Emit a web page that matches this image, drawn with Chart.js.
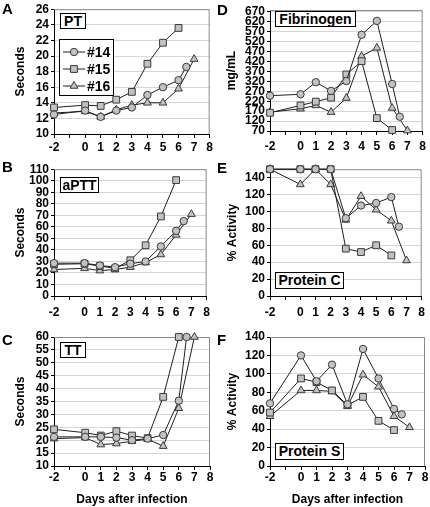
<!DOCTYPE html>
<html>
<head>
<meta charset="utf-8">
<script src="https://cdn.jsdelivr.net/npm/chart.js@4.4.1/dist/chart.umd.min.js"></script>
<style>
  body { margin: 0; background: #fff; width: 430px; height: 507px; position: relative; overflow: hidden;
         font-family: "Liberation Sans", Arial, sans-serif; }
  canvas { position: absolute; }
  .letter { position: absolute; font-weight: bold; font-size: 15px; line-height: 15px; }
  .tag { position: absolute; box-sizing: border-box; border: 1px solid #000; background: #fff;
         font-weight: bold; font-size: 14px; text-align: center; }
</style>
</head>
<body>
<canvas id="chartA" width="215" height="160" style="left:0;top:0"></canvas>
<canvas id="chartB" width="215" height="165" style="left:0;top:160px"></canvas>
<canvas id="chartC" width="215" height="182" style="left:0;top:325px"></canvas>
<canvas id="chartD" width="215" height="160" style="left:215px;top:0"></canvas>
<canvas id="chartE" width="215" height="165" style="left:215px;top:160px"></canvas>
<canvas id="chartF" width="215" height="182" style="left:215px;top:325px"></canvas>

<div class="letter" style="left:2px;top:1px">A</div>
<div class="letter" style="left:2px;top:159px">B</div>
<div class="letter" style="left:2px;top:332px">C</div>
<div class="letter" style="left:217px;top:2px">D</div>
<div class="letter" style="left:217px;top:160px">E</div>
<div class="letter" style="left:217px;top:332px">F</div>

<div class="tag" style="left:60px;top:13px;width:26px;height:16px;line-height:14px">PT</div>
<div class="tag" style="left:60px;top:177px;width:39px;height:16px;line-height:14px">aPTT</div>
<div class="tag" style="left:60px;top:342px;width:26px;height:16px;line-height:14px">TT</div>
<div class="tag" style="left:275px;top:11px;width:81px;height:16px;line-height:14px">Fibrinogen</div>
<div class="tag" style="left:275px;top:272px;width:69px;height:17px;line-height:15px">Protein C</div>
<div class="tag" style="left:275px;top:443px;width:69px;height:17px;line-height:15px">Protein S</div>

<script>
// days after infection for each animal
const days14 = [-2, 0, 1, 2, 3, 4, 5, 6, 6.5];
const days15 = [-2, 0, 1, 2, 3, 4, 5, 6];
const days16 = [-2, 0, 1, 2, 3, 4, 5, 6, 7];
const xTicks = [-2, -1, 0, 1, 2, 3, 4, 5, 6, 7, 8];

// A: PT (seconds)
const pt14 = [12.5, 13.0, 12.2, 13.0, 13.4, 15.0, 16.0, 16.9, 18.6];
const pt15 = [13.4, 13.7, 13.6, 14.4, 15.4, 19.0, 21.7, 23.6];
const pt16 = [12.7, 12.9, 12.2, 13.1, 13.7, 14.0, 14.0, 15.8, 19.6];
const ptTicks = [10, 12, 14, 16, 18, 20, 22, 24, 26];

// B: aPTT (seconds)
const aptt14 = [28.5, 28.5, 26.5, 25, 28, 30, 43, 56.5, 65];
const aptt15 = [27.5, 28, 26, 24, 31, 44, 69, 100.5];
const aptt16 = [23, 24, 22, 23, 25, 29, 36, 53, 71];
const apttTicks = [0, 10, 20, 30, 40, 50, 60, 70, 80, 90, 100, 110];

// C: TT (seconds)
const tt14 = [21.3, 21.3, 21.3, 21.0, 20.0, 20.6, 22.0, 35.3, 60];
const tt15 = [24.2, 22.9, 21.8, 23.5, 21.8, 20.8, 36.8, 60];
const tt16 = [20.6, 21.0, 18.3, 18.7, 19.6, 20.4, 17.7, 32.4, 60];
const ttTicks = [10, 15, 20, 25, 30, 35, 40, 45, 50, 55, 60];

// D: Fibrinogen (mg/mL)
const fib14 = [248, 255, 316, 272, 322, 555, 625, 307, 142];
const fib15 = [162, 199, 218, 238, 355, 422, 135, 75];
const fib16 = [165, 182, 199, 165, 236, 447, 489, 186, 72];
const fibTicks = [70, 120, 170, 220, 270, 320, 370, 420, 470, 520, 570, 620, 670];

// E: Protein C (% activity)
const protC14 = [150, 150, 150, 150, 92, 107, 110, 117, 82];
const protC15 = [150, 150, 150, 150, 56, 52, 60, 48];
const protC16 = [150, 132, 150, 132, 90, 118, 102, 89, 42];
const protCTicks = [0, 20, 40, 60, 80, 100, 120, 140];

// F: Protein S (% activity)
const protS14 = [68, 120, 92, 110, 67, 127, 95, 62, 56];
const protS15 = [58, 95, 91, 82, 66, 75, 49, 39];
const protS16 = [54, 82, 82, 81, 65, 99, 86, 54, 42];
const protSTicks = [0, 20, 40, 60, 80, 100, 120, 140];

const seriesNames = ['#14', '#15', '#16'];

const FONT = '"Liberation Sans", Arial, sans-serif';
const LINE = '#1e1e1e';
const MARK_FILL = '#c2c2c2';
const MARK_EDGE = '#3a3a3a';
const marks = [
  { pointStyle: 'circle', radius: 3.7 },
  { pointStyle: 'rect', radius: 4.8 },
  { pointStyle: 'triangle', radius: 4.5 }
];

const toPoints = (days, vals) => days.map((d, i) => ({ x: d, y: vals[i] }));

// gray frame on top and right of the plot area
const frame = {
  id: 'frame',
  beforeDatasetsDraw(chart) {
    const { ctx, chartArea: a } = chart;
    ctx.save();
    ctx.strokeStyle = '#8a8a8a';
    ctx.lineWidth = 1;
    ctx.beginPath();
    ctx.moveTo(a.left, a.top + 0.5);
    ctx.lineTo(a.right - 0.5, a.top + 0.5);
    ctx.lineTo(a.right - 0.5, a.bottom);
    ctx.stroke();
    ctx.restore();
  }
};

// legend box of panel A
const legendBox = {
  id: 'legendBox',
  afterDraw(chart) {
    const ctx = chart.ctx;
    ctx.save();
    ctx.fillStyle = '#fff';
    ctx.fillRect(59.5, 39.5, 54, 56);
    ctx.strokeStyle = '#000';
    ctx.lineWidth = 1;
    ctx.strokeRect(59.5, 39.5, 54, 56);
    [52, 69, 86].forEach((y, i) => {
      ctx.strokeStyle = LINE;
      ctx.beginPath();
      ctx.moveTo(63, y);
      ctx.lineTo(85, y);
      ctx.stroke();
      ctx.fillStyle = MARK_FILL;
      ctx.strokeStyle = MARK_EDGE;
      Chart.helpers.drawPoint(ctx, { pointStyle: marks[i].pointStyle, radius: marks[i].radius, rotation: 0, borderWidth: 1 }, 74, y);
      ctx.fillStyle = '#000';
      ctx.font = 'bold 14px ' + FONT;
      ctx.textBaseline = 'middle';
      ctx.fillText(seriesNames[i], 87, y + 1);
    });
    ctx.restore();
  }
};

function panel(id, o) {
  const sets = [[days14, o.v14], [days15, o.v15], [days16, o.v16]].map(([d, v], i) => ({
    label: seriesNames[i],
    data: toPoints(d, v),
    borderColor: LINE,
    borderWidth: 1,
    pointStyle: marks[i].pointStyle,
    pointRadius: marks[i].radius,
    pointBackgroundColor: MARK_FILL,
    pointBorderColor: MARK_EDGE,
    pointBorderWidth: 1,
    clip: false
  }));
  const tickFont = { family: FONT, size: 12, weight: 'bold' };
  new Chart(document.getElementById(id), {
    type: 'line',
    data: { datasets: sets },
    options: {
      responsive: false,
      animation: false,
      layout: { autoPadding: false, padding: { top: o.top, right: 5, left: 0, bottom: 0 } },
      plugins: { legend: { display: false }, tooltip: { enabled: false } },
      scales: {
        x: {
          type: 'linear', min: -2, max: 8,
          afterBuildTicks: s => { s.ticks = xTicks.map(v => ({ value: v })); },
          afterFit: s => { s.height = o.xH; },
          grid: { drawOnChartArea: false, tickLength: 4, tickColor: '#000' },
          border: { color: '#000', width: 1 },
          ticks: { color: '#000', font: tickFont, padding: o.xPad, maxRotation: 0, autoSkip: false,
                   callback: v => (v === -1 ? '' : v) },
          title: { display: !!o.xTitle, text: o.xTitle || '', color: '#000', font: tickFont, padding: { top: 0, bottom: 0 } }
        },
        y: {
          type: 'linear', min: o.min, max: o.max,
          afterBuildTicks: s => { s.ticks = o.ticks.map(v => ({ value: v })); },
          afterFit: s => { s.width = o.yW; },
          grid: { color: '#d6d6d6', lineWidth: 1, tickLength: 3, tickColor: '#000' },
          border: { color: '#000', width: 1 },
          ticks: { color: '#000', font: tickFont, padding: 2, autoSkip: false },
          title: { display: true, text: o.yTitle, color: '#000', font: tickFont, padding: { top: o.titlePad, bottom: 0 } }
        }
      }
    },
    plugins: [frame].concat(o.extra || [])
  });
}

panel('chartA', { v14: pt14, v15: pt15, v16: pt16, min: 10, max: 26, ticks: ptTicks, yTitle: 'Seconds',
  top: 8, xH: 26, xPad: 2, yW: 54, titlePad: 13, extra: [legendBox] });
panel('chartB', { v14: aptt14, v15: aptt15, v16: aptt16, min: 0, max: 110, ticks: apttTicks, yTitle: 'Seconds',
  top: 9, xH: 29, xPad: 5, yW: 54, titlePad: 13 });
panel('chartC', { v14: tt14, v15: tt15, v16: tt16, min: 10, max: 60, ticks: ttTicks, yTitle: 'Seconds',
  top: 12, xH: 41, xPad: 0, yW: 54, titlePad: 13, xTitle: 'Days after infection' });
panel('chartD', { v14: fib14, v15: fib15, v16: fib16, min: 70, max: 680, ticks: fibTicks, yTitle: 'mg/mL',
  top: 10, xH: 29, xPad: 4, yW: 55, titlePad: 9 });
panel('chartE', { v14: protC14, v15: protC15, v16: protC16, min: 0, max: 150, ticks: protCTicks, yTitle: '% Activity',
  top: 9, xH: 29, xPad: 5, yW: 55, titlePad: 10 });
panel('chartF', { v14: protS14, v15: protS15, v16: protS16, min: 0, max: 140, ticks: protSTicks, yTitle: '% Activity',
  top: 12, xH: 41, xPad: 0, yW: 55, titlePad: 10, xTitle: 'Days after infection' });
</script>
</body>
</html>
